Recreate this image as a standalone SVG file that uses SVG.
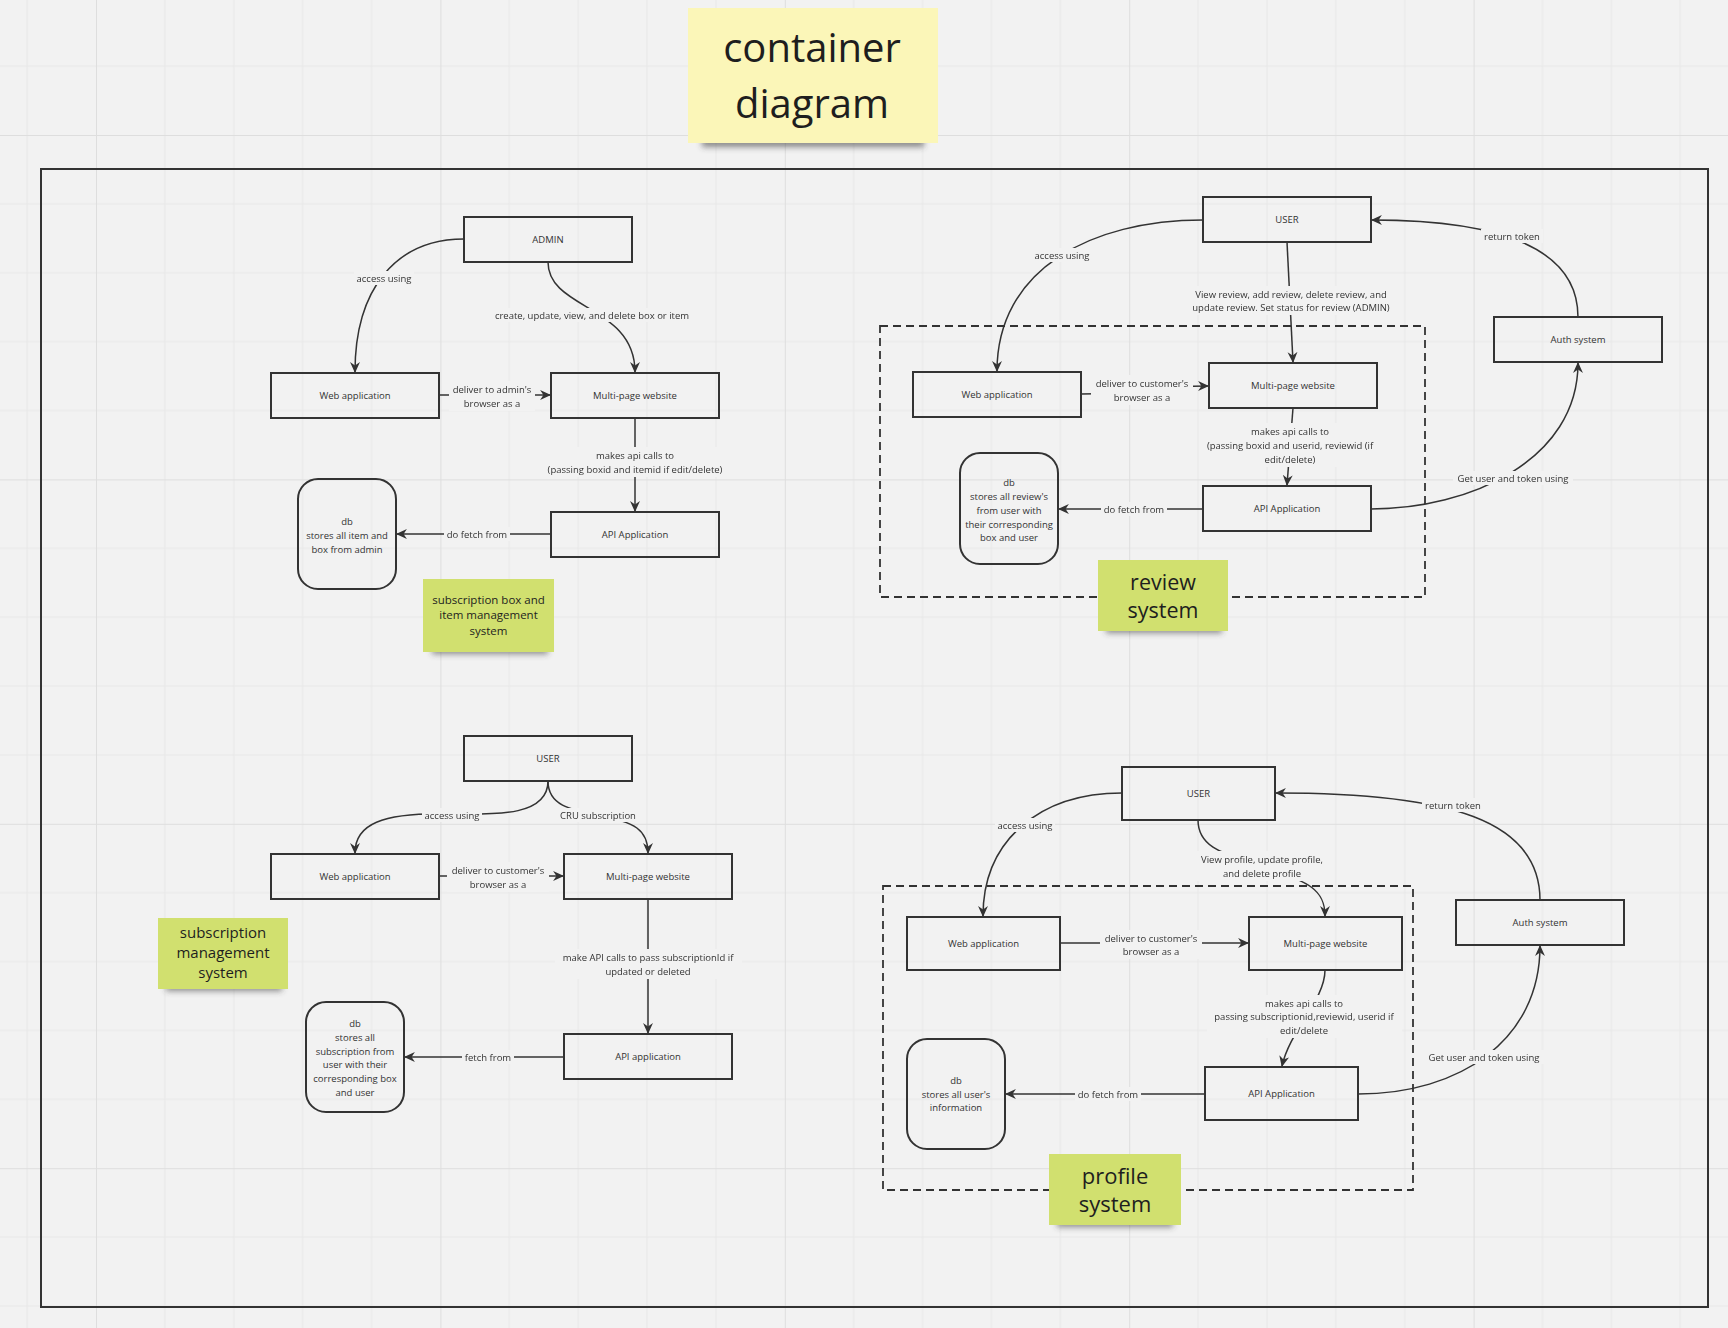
<svg xmlns="http://www.w3.org/2000/svg" width="1728" height="1328" viewBox="0 0 1728 1328">
<defs>
<pattern id="grid" patternUnits="userSpaceOnUse" x="96" y="135" width="344.4" height="344.4">
<g stroke="#e7e7e7" stroke-width="1">
<line x1="68.9" y1="0" x2="68.9" y2="344.4"/><line x1="137.8" y1="0" x2="137.8" y2="344.4"/><line x1="206.6" y1="0" x2="206.6" y2="344.4"/><line x1="275.5" y1="0" x2="275.5" y2="344.4"/>
<line x1="0" y1="68.9" x2="344.4" y2="68.9"/><line x1="0" y1="137.8" x2="344.4" y2="137.8"/><line x1="0" y1="206.6" x2="344.4" y2="206.6"/><line x1="0" y1="275.5" x2="344.4" y2="275.5"/>
</g>
<g stroke="#dedede" stroke-width="2">
<line x1="0" y1="0" x2="0" y2="344.4"/><line x1="0" y1="0" x2="344.4" y2="0"/>
</g>
</pattern>
<marker id="arr" viewBox="0 0 10 10" refX="9" refY="5" markerWidth="11" markerHeight="11" markerUnits="userSpaceOnUse" orient="auto">
<path d="M0,0.5 L10,5 L0,9.5 L3,5 z" fill="#333"/>
</marker>
<filter id="shadow" x="-20%" y="-100%" width="140%" height="300%">
<feGaussianBlur stdDeviation="3"/>
</filter>
<filter id="bg" x="-0.04" y="-0.02" width="1.08" height="1.04" color-interpolation-filters="sRGB">
<feFlood flood-color="#f2f2f2"/>
<feComposite in="SourceGraphic"/>
</filter>
<style>
.box{fill:none;stroke:#333;stroke-width:2}
.dash{fill:none;stroke:#333;stroke-width:1.8;stroke-dasharray:8 5}
.edge{fill:none;stroke:#333;stroke-width:1.5;marker-end:url(#arr)}
.t{font-family:"Open Sans","Liberation Sans",sans-serif;font-size:9.5px;fill:#333;text-anchor:middle;dominant-baseline:central}
.lb text{font-family:"Open Sans","Liberation Sans",sans-serif;font-size:9.5px;fill:#333;text-anchor:middle;dominant-baseline:central}
.st{font-family:"Open Sans","Liberation Sans",sans-serif;fill:#1e1e1e;text-anchor:middle;dominant-baseline:central}
.yel{fill:#fbf6b8}
.grn{fill:#d1e06f}
.shd{fill:#333;opacity:0.55;filter:url(#shadow)}
</style>
</defs>
<rect x="0" y="0" width="1728" height="1328" fill="#f2f2f2"/>
<rect x="0" y="0" width="1728" height="1328" fill="url(#grid)"/>

<!-- title sticky -->
<g id="title">
<rect class="shd" x="702" y="137" width="222" height="10"/>
<rect class="yel" x="688" y="8" width="250" height="135"/>
<text class="st" x="812" y="46" font-size="40">container</text>
<text class="st" x="812" y="102" font-size="40">diagram</text>
</g>

<!-- outer frame -->
<rect id="frame" x="41" y="169" width="1667" height="1138" fill="none" stroke="#333" stroke-width="2"/>

<!-- dashed boundaries -->
<rect id="review-boundary" class="dash" x="880" y="326" width="545" height="271"/>
<rect id="profile-boundary" class="dash" x="883" y="886" width="530" height="304"/>

<g id="connectors">
<!-- subscription box and item management -->
<path class="edge" d="M464,239 C395,239 355,290 355,372"/>
<path class="edge" d="M548,262 C548,310 635,305 635,372"/>
<path class="edge" d="M439,395 L550,395"/>
<path class="edge" d="M635,418 L635,511"/>
<path class="edge" d="M551,534 L397,534"/>
<!-- review -->
<path class="edge" d="M1203,220 C1090,220 997,270 997,371"/>
<path class="edge" d="M1287,242 L1293,362"/>
<path class="edge" d="M1081,394 C1140,394 1150,386 1208,386"/>
<path class="edge" d="M1293,408 L1287,485"/>
<path class="edge" d="M1203,509 L1059,509"/>
<path class="edge" d="M1371,509 C1470,509 1578,460 1578,363"/>
<path class="edge" d="M1578,317 C1578,240 1480,220 1372,220"/>
<!-- subscription management -->
<path class="edge" d="M548,781 C548,815 500,815 452,814 C380,812 355,825 355,853"/>
<path class="edge" d="M548,781 C548,805 570,810 598,815 C635,822 648,830 648,853"/>
<path class="edge" d="M439,876 L563,876"/>
<path class="edge" d="M648,899 L648,1033"/>
<path class="edge" d="M564,1057 L405,1057"/>
<!-- profile -->
<path class="edge" d="M1122,793 C1040,793 983,840 983,916"/>
<path class="edge" d="M1198,820 C1198,850 1230,855 1262,866 C1310,882 1325,890 1325,916"/>
<path class="edge" d="M1060,943 L1248,943"/>
<path class="edge" d="M1325,970 C1325,1000 1290,1030 1282,1066"/>
<path class="edge" d="M1205,1094 L1006,1094"/>
<path class="edge" d="M1358,1094 C1460,1094 1540,1040 1540,946"/>
<path class="edge" d="M1540,900 C1540,820 1450,793 1276,793"/>

<!-- labels -->
<g class="lb" filter="url(#bg)"><text x="384" y="278">access using</text></g>
<g class="lb" filter="url(#bg)"><text x="592" y="315">create, update, view, and delete box or item</text></g>
<g class="lb" filter="url(#bg)"><text x="492" y="389">deliver to admin's</text><text x="492" y="403">browser as a</text></g>
<g class="lb" filter="url(#bg)"><text x="635" y="455">makes api calls to</text><text x="635" y="469">(passing boxid and itemid if edit/delete)</text></g>
<g class="lb" filter="url(#bg)"><text x="477" y="534">do fetch from</text></g>

<g class="lb" filter="url(#bg)"><text x="1062" y="255">access using</text></g>
<g class="lb" filter="url(#bg)"><text x="1291" y="294">View review, add review, delete review, and</text><text x="1291" y="307">update review. Set status for review (ADMIN)</text></g>
<g class="lb" filter="url(#bg)"><text x="1142" y="383">deliver to customer's</text><text x="1142" y="397">browser as a</text></g>
<g class="lb" filter="url(#bg)"><text x="1290" y="431">makes api calls to</text><text x="1290" y="445">(passing boxid and userid, reviewid (if</text><text x="1290" y="459">edit/delete)</text></g>
<g class="lb" filter="url(#bg)"><text x="1134" y="509">do fetch from</text></g>
<g class="lb" filter="url(#bg)"><text x="1513" y="478">Get user and token using</text></g>
<g class="lb" filter="url(#bg)"><text x="1512" y="236">return token</text></g>

<g class="lb" filter="url(#bg)"><text x="452" y="815">access using</text></g>
<g class="lb" filter="url(#bg)"><text x="598" y="815">CRU subscription</text></g>
<g class="lb" filter="url(#bg)"><text x="498" y="870">deliver to customer's</text><text x="498" y="884">browser as a</text></g>
<g class="lb" filter="url(#bg)"><text x="648" y="957">make API calls to pass subscriptionId if</text><text x="648" y="971">updated or deleted</text></g>
<g class="lb" filter="url(#bg)"><text x="488" y="1057">fetch from</text></g>

<g class="lb" filter="url(#bg)"><text x="1025" y="825">access using</text></g>
<g class="lb" filter="url(#bg)"><text x="1262" y="859">View profile, update profile,</text><text x="1262" y="873">and delete profile</text></g>
<g class="lb" filter="url(#bg)"><text x="1151" y="938">deliver to customer's</text><text x="1151" y="951">browser as a</text></g>
<g class="lb" filter="url(#bg)"><text x="1304" y="1003">makes api calls to</text><text x="1304" y="1016">passing subscriptionid,reviewid, userid if</text><text x="1304" y="1030">edit/delete</text></g>
<g class="lb" filter="url(#bg)"><text x="1108" y="1094">do fetch from</text></g>
<g class="lb" filter="url(#bg)"><text x="1484" y="1057">Get user and token using</text></g>
<g class="lb" filter="url(#bg)"><text x="1453" y="805">return token</text></g>
</g>

<!-- subscription box and item management system -->
<g id="admin"><rect class="box" x="464" y="217" width="168" height="45"/><text class="t" x="548" y="239.5">ADMIN</text></g>
<g id="sb-web"><rect class="box" x="271" y="373" width="168" height="45"/><text class="t" x="355" y="395.5">Web application</text></g>
<g id="sb-multi"><rect class="box" x="551" y="373" width="168" height="45"/><text class="t" x="635" y="395.5">Multi-page website</text></g>
<g id="sb-api"><rect class="box" x="551" y="512" width="168" height="45"/><text class="t" x="635" y="534.5">API Application</text></g>
<g id="sb-db"><rect class="box" x="298" y="479" width="98" height="110" rx="20"/>
<text class="t" x="347" y="521">db</text><text class="t" x="347" y="535">stores all item and</text><text class="t" x="347" y="549">box from admin</text></g>
<g id="sb-note"><rect class="shd" x="432" y="646" width="116" height="8"/><rect class="grn" x="423" y="579" width="131" height="73"/>
<text class="st" x="488.5" y="599" font-size="11.5">subscription box and</text><text class="st" x="488.5" y="614.5" font-size="11.5">item management</text><text class="st" x="488.5" y="630" font-size="11.5">system</text></g>

<!-- review system -->
<g id="rv-user"><rect class="box" x="1203" y="197" width="168" height="45"/><text class="t" x="1287" y="219.5">USER</text></g>
<g id="rv-web"><rect class="box" x="913" y="372" width="168" height="45"/><text class="t" x="997" y="394.5">Web application</text></g>
<g id="rv-multi"><rect class="box" x="1209" y="363" width="168" height="45"/><text class="t" x="1293" y="385.5">Multi-page website</text></g>
<g id="rv-api"><rect class="box" x="1203" y="486" width="168" height="45"/><text class="t" x="1287" y="508.5">API Application</text></g>
<g id="rv-auth"><rect class="box" x="1494" y="317" width="168" height="45"/><text class="t" x="1578" y="339.5">Auth system</text></g>
<g id="rv-db"><rect class="box" x="960" y="453" width="98" height="111" rx="20"/>
<text class="t" x="1009" y="482">db</text><text class="t" x="1009" y="496">stores all review's</text><text class="t" x="1009" y="510">from user with</text><text class="t" x="1009" y="524">their corresponding</text><text class="t" x="1009" y="537">box and user</text></g>
<g id="rv-note"><rect class="shd" x="1106" y="625" width="116" height="8"/><rect class="grn" x="1098" y="560" width="130" height="71"/>
<text class="st" x="1163" y="581" font-size="21.5">review</text><text class="st" x="1163" y="609" font-size="21.5">system</text></g>

<!-- subscription management system -->
<g id="sm-user"><rect class="box" x="464" y="736" width="168" height="45"/><text class="t" x="548" y="758.5">USER</text></g>
<g id="sm-web"><rect class="box" x="271" y="854" width="168" height="45"/><text class="t" x="355" y="876.5">Web application</text></g>
<g id="sm-multi"><rect class="box" x="564" y="854" width="168" height="45"/><text class="t" x="648" y="876.5">Multi-page website</text></g>
<g id="sm-api"><rect class="box" x="564" y="1034" width="168" height="45"/><text class="t" x="648" y="1056.5">API application</text></g>
<g id="sm-db"><rect class="box" x="306" y="1002" width="98" height="110" rx="20"/>
<text class="t" x="355" y="1023">db</text><text class="t" x="355" y="1037">stores all</text><text class="t" x="355" y="1051">subscription from</text><text class="t" x="355" y="1064">user with their</text><text class="t" x="355" y="1078">corresponding box</text><text class="t" x="355" y="1092">and user</text></g>
<g id="sm-note"><rect class="shd" x="166" y="983" width="116" height="8"/><rect class="grn" x="158" y="918" width="130" height="71"/>
<text class="st" x="223" y="932" font-size="15">subscription</text><text class="st" x="223" y="952" font-size="15">management</text><text class="st" x="223" y="972" font-size="15">system</text></g>

<!-- profile system -->
<g id="pf-user"><rect class="box" x="1122" y="767" width="153" height="53"/><text class="t" x="1198.5" y="793.5">USER</text></g>
<g id="pf-web"><rect class="box" x="907" y="917" width="153" height="53"/><text class="t" x="983.5" y="943.5">Web application</text></g>
<g id="pf-multi"><rect class="box" x="1249" y="917" width="153" height="53"/><text class="t" x="1325.5" y="943.5">Multi-page website</text></g>
<g id="pf-api"><rect class="box" x="1205" y="1067" width="153" height="53"/><text class="t" x="1281.5" y="1093.5">API Application</text></g>
<g id="pf-auth"><rect class="box" x="1456" y="900" width="168" height="45"/><text class="t" x="1540" y="922.5">Auth system</text></g>
<g id="pf-db"><rect class="box" x="907" y="1039" width="98" height="110" rx="20"/>
<text class="t" x="956" y="1080">db</text><text class="t" x="956" y="1094">stores all user's</text><text class="t" x="956" y="1107">information</text></g>
<g id="pf-note"><rect class="shd" x="1057" y="1219" width="116" height="8"/><rect class="grn" x="1049" y="1154" width="132" height="71"/>
<text class="st" x="1115" y="1175" font-size="22">profile</text><text class="st" x="1115" y="1203" font-size="22">system</text></g>
</svg>
